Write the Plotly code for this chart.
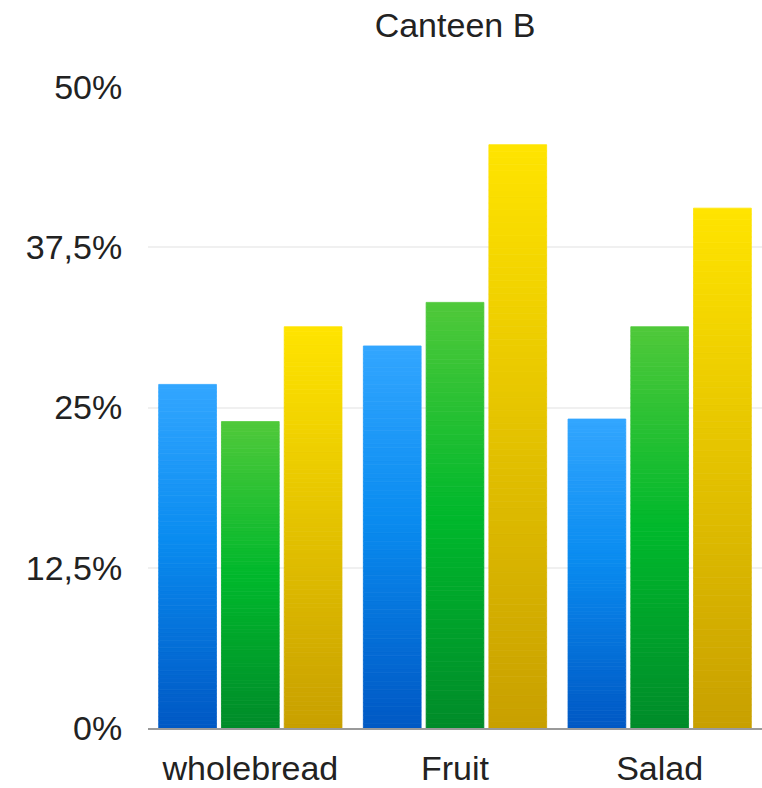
import plotly.graph_objects as go

categories = ["wholebread", "Fruit", "Salad"]
series_names = ["Series 1", "Series 2", "Series 3"]
blue_values = [26.8, 29.8, 24.1]
green_values = [23.9, 33.2, 31.3]
yellow_values = [31.3, 45.5, 40.55]
tick_vals = [0, 12.5, 25, 37.5, 50]
tick_text = ["0%", "12,5%", "25%", "37,5%", "50%"]

# gradient stops (bottom -> top)
blue_stops = [(0.0, (0, 88, 196)), (0.55, (10, 140, 240)), (1.0, (51, 166, 255))]
green_stops = [(0.0, (0, 140, 42)), (0.5, (0, 184, 44)), (1.0, (80, 201, 58))]
yellow_stops = [(0.0, (200, 160, 0)), (1.0, (255, 228, 0))]


def interp(stops, t):
    for (t0, c0), (t1, c1) in zip(stops[:-1], stops[1:]):
        if t <= t1:
            f = 0 if t1 == t0 else (t - t0) / (t1 - t0)
            c = [round(a + (b - a) * f) for a, b in zip(c0, c1)]
            return "rgb(%d,%d,%d)" % tuple(c)
    return "rgb(%d,%d,%d)" % stops[-1][1]


N = 90
fig = go.Figure()
for name, vals, stops in [
    (series_names[0], blue_values, blue_stops),
    (series_names[1], green_values, green_stops),
    (series_names[2], yellow_values, yellow_stops),
]:
    for k in range(N):
        t = (k + 0.5) / N
        col = interp(stops, t)
        fig.add_trace(
            go.Bar(
                x=categories,
                y=[v / N for v in vals],
                base=[v * k / N for v in vals],
                offsetgroup=name,
                name=name,
                showlegend=False,
                marker=dict(color=col, line=dict(width=0.8, color=col)),
                hoverinfo="skip",
            )
        )

font_color = "#222222"
fig.update_layout(
    width=762,
    height=788,
    margin=dict(l=148, r=0, t=87, b=60),
    paper_bgcolor="white",
    plot_bgcolor="white",
    barmode="group",
    bargap=0.08,
    bargroupgap=0.08,
    font=dict(family="Liberation Sans, Arial, sans-serif", size=34, color=font_color),
    title=dict(
        text="Canteen B",
        x=0.5,
        xref="paper",
        xanchor="center",
        y=1 - 25 / 788,
        yref="container",
        yanchor="middle",
        font=dict(size=34, color=font_color),
    ),
    xaxis=dict(
        automargin=False,
        showline=True,
        linecolor="#9a9a9a",
        linewidth=2,
        ticks="outside",
        ticklen=9,
        tickcolor="rgba(0,0,0,0)",
        showgrid=False,
        tickfont=dict(size=34, color=font_color),
    ),
    yaxis=dict(
        automargin=False,
        range=[0, 50],
        tickvals=tick_vals,
        ticktext=tick_text,
        showgrid=True,
        gridcolor="#f0f0f0",
        gridwidth=2,
        zeroline=False,
        showline=False,
        ticks="outside",
        ticklen=18,
        tickcolor="rgba(0,0,0,0)",
        tickfont=dict(size=34, color=font_color),
    ),
)

fig.write_html("out.html")
